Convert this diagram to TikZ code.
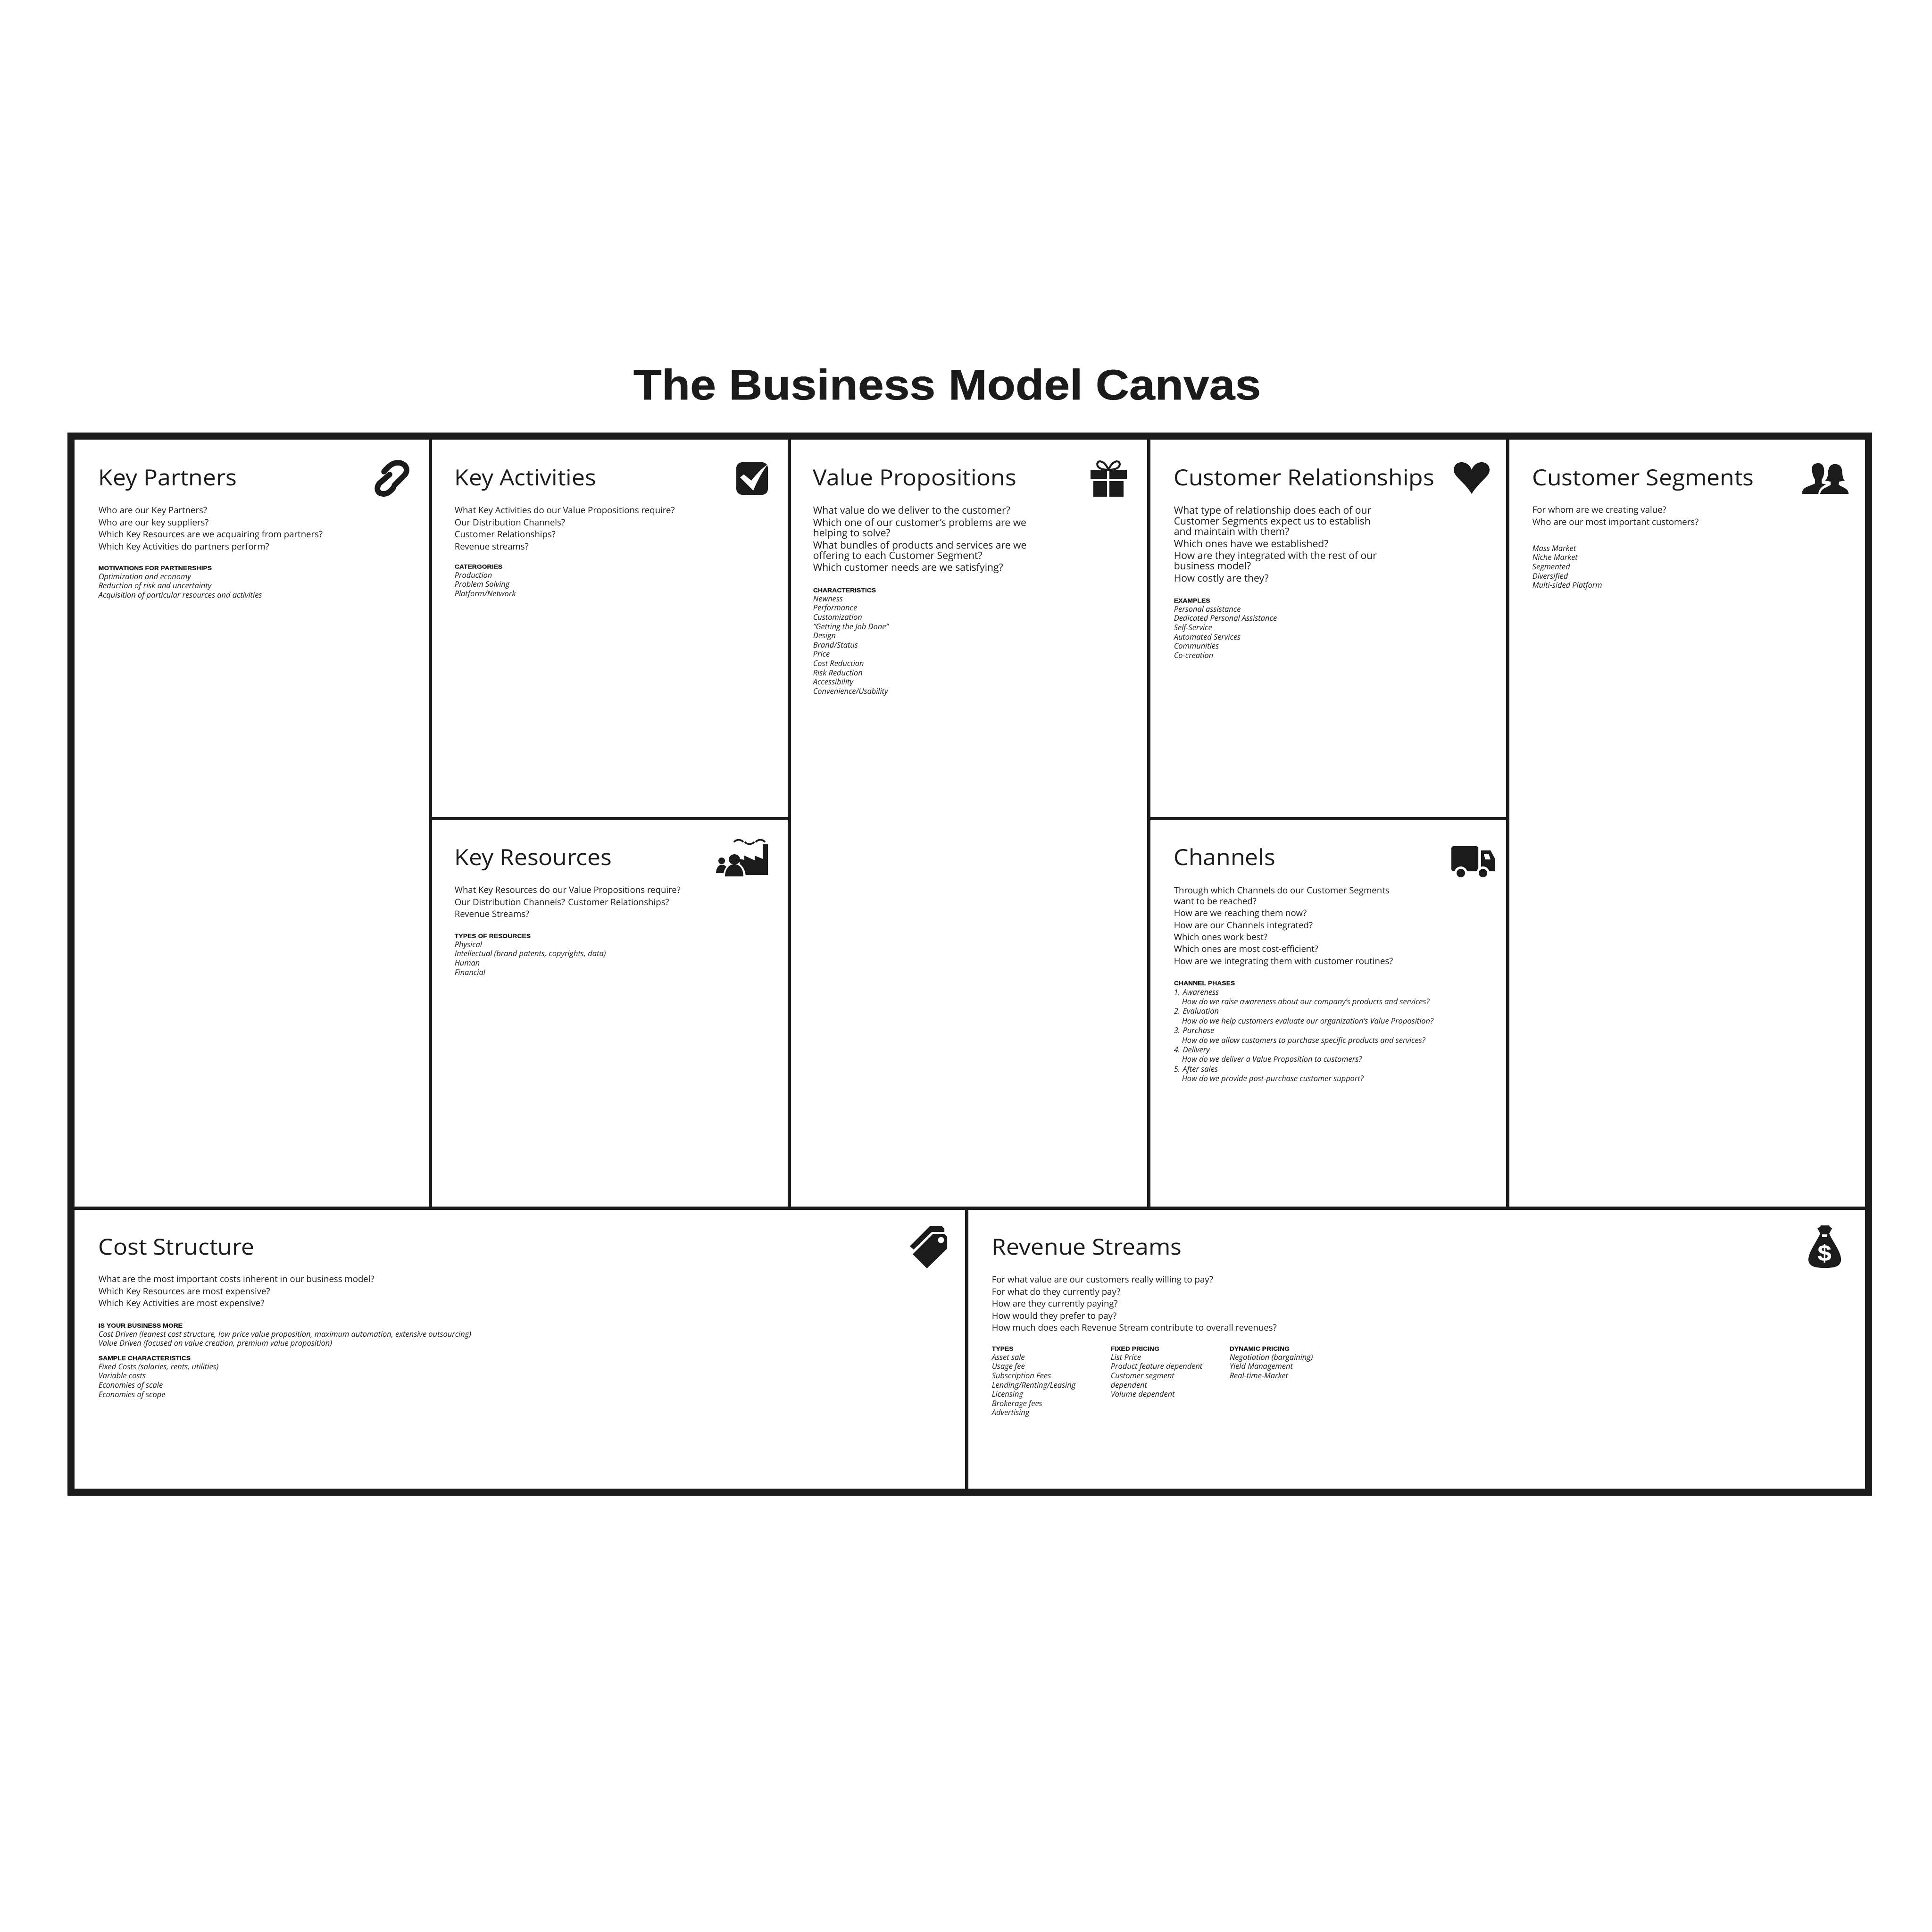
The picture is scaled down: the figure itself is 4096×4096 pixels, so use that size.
\documentclass[tikz,border=0pt]{standalone}
\usepackage{fontspec}
\setmainfont{Open Sans}
\newfontfamily\canvasfont[BoldFeatures={FakeStretch=1.09,FakeBold=0.6}]{Liberation Sans}
\newfontfamily\cellfont[FakeStretch=1.06]{Open Sans}
\usetikzlibrary{positioning}
\definecolor{canvasink}{RGB}{28,27,27}
\newcommand{\nextq}{\\[0.75pt]}
\tikzset{
  celltitle/.style={anchor=base west, inner sep=0pt, text=canvasink, font=\cellfont\fontsize{11.75}{14}\selectfont},
  cellbody/.style={anchor=north west, inner sep=0pt, align=left, text=canvasink, font=\fontsize{4.65}{5.6}\selectfont},
  cellbigbody/.style={cellbody, font=\fontsize{5.28}{5.6}\selectfont},
  celllist/.style={anchor=north west, inner sep=0pt, align=left, text=canvasink, font=\fontsize{4.1}{4.9}\selectfont\itshape},
  cellrule/.style={draw=canvasink, line width=1.75pt},
  iconfill/.style={fill=canvasink, draw=none},
  iconlink/.style={draw=canvasink, line width=2.9pt, line cap=round}
}
\newcommand{\listhead}[1]{{\upshape\canvasfont\bfseries\fontsize{3.2}{4.9}\selectfont #1}}
\begin{document}
\begin{tikzpicture}[x=0.25pt,y=-0.25pt]
\useasboundingbox (0,0) rectangle (4096,4096);
\fill[white] (0,0) rectangle (4096,4096);
% main title
\node[anchor=base, inner sep=0pt, text=canvasink, font=\canvasfont\bfseries\fontsize{22.6}{26}\selectfont] (canvastitle) at (2008,847) {The Business Model Canvas};
% frame and cell rules
\draw[canvasink, line width=3.75pt] (150.5,924.5) rectangle (3961,3163.5);
\draw[cellrule] (912.5,932) -- (912.5,2562);
\draw[cellrule] (1673,932) -- (1673,2562);
\draw[cellrule] (2435,932) -- (2435,2562);
\draw[cellrule] (3196,932) -- (3196,2562);
\draw[cellrule] (912.5,1735.5) -- (1673,1735.5);
\draw[cellrule] (2435,1735.5) -- (3196,1735.5);
\draw[cellrule] (158,2561.5) -- (3954,2561.5);
\draw[cellrule] (2049.5,2562) -- (2049.5,3156);
% key partners
\node[celltitle] (partners) at (208,1029) {Key Partners};
\node[cellbody] (partnersq) at (208,1074) {Who are our Key Partners?\nextq
Who are our key suppliers?\nextq
Which Key Resources are we acquairing from partners?\nextq
Which Key Activities do partners perform?};
\node[celllist] (partnersl) at (208,1199) {\listhead{MOTIVATIONS FOR PARTNERSHIPS}\\
Optimization and economy\\
Reduction of risk and uncertainty\\
Acquisition of particular resources and activities};
% key activities
\node[celltitle] (activities) at (963,1029) {Key Activities};
\node[cellbody] (activitiesq) at (963,1074) {What Key Activities do our Value Propositions require?\nextq
Our Distribution Channels?\nextq
Customer Relationships?\nextq
Revenue streams?};
\node[celllist] (activitiesl) at (963,1196) {\listhead{CATERGORIES}\\
Production\\
Problem Solving\\
Platform/Network};
% key resources
\node[celltitle] (resources) at (963,1834) {Key Resources};
\node[cellbody] (resourcesq) at (963,1879) {What Key Resources do our Value Propositions require?\nextq
Our Distribution Channels? Customer Relationships?\nextq
Revenue Streams?};
\node[celllist] (resourcesl) at (963,1979) {\listhead{TYPES OF RESOURCES}\\
Physical\\
Intellectual (brand patents, copyrights, data)\\
Human\\
Financial};
% value propositions
\node[celltitle] (value) at (1723,1029) {Value Propositions};
\node[cellbigbody] (valueq) at (1723,1073) {What value do we deliver to the customer?\nextq
Which one of our customer’s problems are we\\
helping to solve?\nextq
What bundles of products and services are we\\
offering to each Customer Segment?\nextq
Which customer needs are we satisfying?};
\node[celllist] (valuel) at (1723,1246) {\listhead{CHARACTERISTICS}\\
Newness\\
Performance\\
Customization\\
“Getting the Job Done”\\
Design\\
Brand/Status\\
Price\\
Cost Reduction\\
Risk Reduction\\
Accessibility\\
Convenience/Usability};
% customer relationships
\node[celltitle] (relations) at (2488,1029) {Customer Relationships};
\node[cellbigbody] (relationsq) at (2488,1073) {What type of relationship does each of our\\
Customer Segments expect us to establish\\
and maintain with them?\nextq
Which ones have we established?\nextq
How are they integrated with the rest of our\\
business model?\nextq
How costly are they?};
\node[celllist] (relationsl) at (2488,1268) {\listhead{EXAMPLES}\\
Personal assistance\\
Dedicated Personal Assistance\\
Self-Service\\
Automated Services\\
Communities\\
Co-creation};
% channels
\node[celltitle] (channels) at (2488,1834) {Channels};
\node[cellbody] (channelsq) at (2488,1880) {Through which Channels do our Customer Segments\\
want to be reached?\nextq
How are we reaching them now?\nextq
How are our Channels integrated?\nextq
Which ones work best?\nextq
Which ones are most cost-efficient?\nextq
How are we integrating them with customer routines?};
\node[celllist, font=\fontsize{4.1}{5.1}\selectfont\itshape] (channelsl) at (2488,2079) {\listhead{CHANNEL PHASES}\\
1. Awareness\\
\hspace*{4.25pt}How do we raise awareness about our company's products and services?\\
2. Evaluation\\
\hspace*{4.25pt}How do we help customers evaluate our organization's Value Proposition?\\
3. Purchase\\
\hspace*{4.25pt}How do we allow customers to purchase specific products and services?\\
4. Delivery\\
\hspace*{4.25pt}How do we deliver a Value Proposition to customers?\\
5. After sales\\
\hspace*{4.25pt}How do we provide post-purchase customer support?};
% customer segments
\node[celltitle] (segments) at (3248,1029) {Customer Segments};
\node[cellbody] (segmentsq) at (3248,1073) {For whom are we creating value?\nextq
Who are our most important customers?};
\node[celllist] (segmentsl) at (3248,1155) {Mass Market\\
Niche Market\\
Segmented\\
Diversified\\
Multi-sided Platform};
% cost structure
\node[celltitle] (cost) at (208,2660) {Cost Structure};
\node[cellbody] (costq) at (208,2704) {What are the most important costs inherent in our business model?\nextq
Which Key Resources are most expensive?\nextq
Which Key Activities are most expensive?};
\node[celllist] (costl) at (208,2805) {\listhead{IS YOUR BUSINESS MORE}\\
Cost Driven (leanest cost structure, low price value proposition, maximum automation, extensive outsourcing)\\
Value Driven (focused on value creation, premium value proposition)};
\node[celllist] (costm) at (208,2874) {\listhead{SAMPLE CHARACTERISTICS}\\
Fixed Costs (salaries, rents, utilities)\\
Variable costs\\
Economies of scale\\
Economies of scope};
% revenue streams
\node[celltitle] (revenue) at (2102,2660) {Revenue Streams};
\node[cellbody] (revenueq) at (2102,2705) {For what value are our customers really willing to pay?\nextq
For what do they currently pay?\nextq
How are they currently paying?\nextq
How would they prefer to pay?\nextq
How much does each Revenue Stream contribute to overall revenues?};
\node[celllist] (revenuea) at (2102,2854) {\listhead{TYPES}\\
Asset sale\\
Usage fee\\
Subscription Fees\\
Lending/Renting/Leasing\\
Licensing\\
Brokerage fees\\
Advertising};
\node[celllist] (revenueb) at (2354,2854) {\listhead{FIXED PRICING}\\
List Price\\
Product feature dependent\\
Customer segment\\
dependent\\
Volume dependent};
\node[celllist] (revenuec) at (2606,2854) {\listhead{DYNAMIC PRICING}\\
Negotiation (bargaining)\\
Yield Management\\
Real-time-Market};
% chain icon
\draw[iconlink] (814,1000) .. controls (824,988) and (832,981) .. (844,981) .. controls (858,981) and (868,994) .. (858,1007) -- (836,1029);
\draw[iconlink] (834,1034) .. controls (828,1042) and (820,1048) .. (812,1047) .. controls (801,1047) and (796,1036) .. (804,1025) -- (826,1006);
% check icon
\fill[iconfill, rounded corners=3pt] (1561,980) rectangle (1628,1049);
\fill[white] (1569,1012) -- (1577,1006) -- (1593,1019) .. controls (1603,1006) and (1614,994) .. (1627,985) .. controls (1616,1000) and (1605,1020) .. (1597,1040) -- cycle;
% factory and people icon
\fill[iconfill] (1617,1790) -- (1628,1790) -- (1628,1855) -- (1568,1855) -- (1568,1821) -- (1578,1823) -- (1578,1814) -- (1600,1824) -- (1600,1814) -- (1617,1821) -- cycle;
\foreach \x/\c in {1556/-6,1579/6,1602/-6}
  \draw[canvasink, line width=0.9pt] (\x,1785) .. controls (\x+6,1785+\c) and (\x+14,1785+\c) .. (\x+20,1785);
\fill[iconfill] (1530,1825) circle [radius=7];
\fill[iconfill] (1518,1851) .. controls (1518,1838) and (1526,1833) .. (1530,1833) .. controls (1536,1833) and (1544,1838) .. (1544,1851) -- cycle;
\fill[white] (1557,1860) ellipse [x radius=24, y radius=32];
\fill[iconfill] (1557,1822) ellipse [x radius=12, y radius=11];
\fill[iconfill] (1537,1858) .. controls (1537,1840) and (1548,1832) .. (1557,1832) .. controls (1566,1832) and (1576,1840) .. (1576,1858) -- cycle;
% gift icon
\fill[iconfill] (2312,996) rectangle (2347,1015);
\fill[iconfill] (2352,996) rectangle (2389,1015);
\fill[iconfill] (2318,1020) rectangle (2347,1053);
\fill[iconfill] (2352,1020) rectangle (2382,1053);
\draw[canvasink, line width=1pt] (2350,996) .. controls (2340,972) and (2322,975) .. (2327,988) .. controls (2330,994) and (2340,996) .. (2350,996) .. controls (2360,972) and (2378,975) .. (2373,988) .. controls (2370,994) and (2360,996) .. (2350,996);
% heart icon
\fill[iconfill] (3120,1047) .. controls (3105,1022) and (3082,1010) .. (3082,997) .. controls (3082,975) and (3112,974) .. (3120,996) .. controls (3128,974) and (3158,975) .. (3158,997) .. controls (3158,1010) and (3135,1022) .. (3120,1047) -- cycle;
% truck icon
\fill[iconfill, rounded corners=1pt] (3077,1847) -- (3077,1794) -- (3134,1794) -- (3134,1847) -- cycle;
\fill[iconfill] (3140,1847) -- (3140,1803) -- (3160,1803) -- (3169,1820) -- (3169,1847) -- cycle;
\fill[white] (3145.5,1810) -- (3156,1810) -- (3160,1822) -- (3149,1822) -- cycle;
\foreach \x in {3097,3144} {
  \fill[white] (\x,1851) circle [radius=14];
  \fill[iconfill] (\x,1851) circle [radius=9];
}
% people icon
\fill[iconfill] (3855,982) .. controls (3843,982) and (3840,990) .. (3842,998) .. controls (3842,1006) and (3845,1012) .. (3848,1017) -- (3848,1025) .. controls (3840,1030) and (3823,1032) .. (3821,1042) -- (3821,1047) -- (3855,1047) .. controls (3855,1040) and (3860,1032) .. (3871,1027) -- (3862,1025) -- (3862,1017) .. controls (3869,1008) and (3871,982) .. (3855,982) -- cycle;
\fill[iconfill] (3890,984) .. controls (3875,984) and (3876,1000) .. (3875,1008) .. controls (3874,1014) and (3872,1018) .. (3869,1019) -- (3881,1021) -- (3881,1028) .. controls (3875,1033) and (3860,1035) .. (3859,1047) -- (3919,1047) .. controls (3919,1035) and (3905,1033) .. (3898,1028) -- (3899,1021) -- (3911,1019) .. controls (3908,1018) and (3907,1012) .. (3906,1006) .. controls (3905,995) and (3905,984) .. (3890,984) -- cycle;
% tag icon
\fill[iconfill] (1935,2659) -- (1978,2616) -- (2002,2616) -- (2008,2622) -- (2008,2647) -- (1965,2689) -- cycle;
\fill[white] (1995,2629) circle [radius=6.5];
\fill[iconfill] (1929,2642) -- (1972,2599) -- (1996,2599) -- (2002,2605) -- (2002,2612) -- (1975,2612) -- (1937,2649) -- cycle;
% money bag icon
\fill[iconfill] (3860,2598) -- (3878,2598) -- (3879,2601) -- (3884,2604) -- (3878,2615) .. controls (3885,2632) and (3903,2654) .. (3903,2670) .. controls (3903,2685) and (3890,2688) .. (3869,2688) .. controls (3848,2688) and (3834,2685) .. (3834,2670) .. controls (3834,2654) and (3852,2632) .. (3859,2615) -- (3853,2604) -- (3859,2601) -- cycle;
\fill[white] (3863,2617) rectangle (3874,2623);
\node[inner sep=0pt, text=white, font=\canvasfont\bfseries\fontsize{12}{12}\selectfont] (dollar) at (3868,2657) {\$};
\end{tikzpicture}
\end{document}
